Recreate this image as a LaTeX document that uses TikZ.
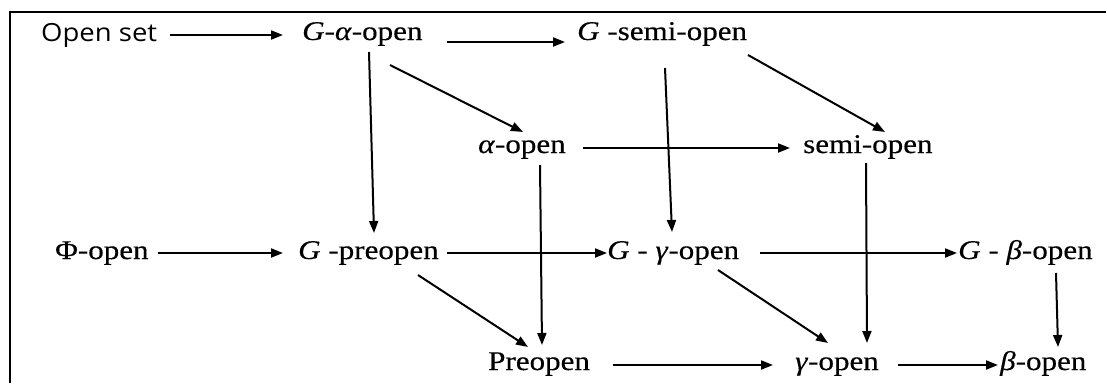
\documentclass[tikz,border=0pt]{standalone}
\usepackage{fontspec}
\setmainfont{Liberation Serif}[FakeStretch=1.15,FakeBold=0.4]
\newfontfamily\labsans{Open Sans}[FakeStretch=1.1]
\usetikzlibrary{arrows.meta}
\begin{document}
\begin{tikzpicture}[x=1pt,y=-1pt,
  lab/.style={anchor=base west,inner sep=0pt,font=\fontsize{27}{30}\selectfont},
  slab/.style={anchor=base west,inner sep=0pt,font=\labsans\fontsize{25}{28}\selectfont},
  arr/.style={line width=2pt,-{Triangle[length=12pt,width=9pt]}},
  frame/.style={line width=2pt}]
\useasboundingbox (0,0) rectangle (1107,383);
\draw[frame] (10,383) -- (10,12) -- (1106,12);
% nodes
\node[slab] (oset) at (41,41) {Open set};
\node[lab] (gao) at (302,40) {\textit{G}-\textit{α}-open};
\node[lab] (gso) at (577,40) {\textit{G} -semi-open};
\node[lab] (ao) at (478,153) {\textit{α}-open};
\node[lab] (so) at (803,153) {semi-open};
\node[lab] (phi) at (55,259) {Φ-open};
\node[lab] (gp) at (298,259) {\textit{G} -preopen};
\node[lab] (gg) at (607,259) {\textit{G} - \textit{γ}-open};
\node[lab] (gb) at (958,259) {\textit{G} - \textit{β}-open};
\node[lab] (pre) at (488,370) {Preopen};
\node[lab] (g) at (795,370) {\textit{γ}-open};
\node[lab] (b) at (1000,370) {\textit{β}-open};
% horizontal connectors
\draw[arr] ([shift={(129,-6)}]oset.base west) -- ([shift={(-19,-5)}]gao.base west);
\draw[arr] ([shift={(145,2)}]gao.base west) -- ([shift={(-12,2)}]gso.base west);
\draw[arr] ([shift={(105,-5)}]ao.base west) -- ([shift={(-13,-5)}]so.base west);
\draw[arr] ([shift={(103,-6)}]phi.base west) -- ([shift={(-15,-6)}]gp.base west);
\draw[arr] ([shift={(149,-6)}]gp.base west) -- ([shift={(0,-6)}]gg.base west);
\draw[arr] ([shift={(153,-6)}]gg.base west) -- ([shift={(-1,-6)}]gb.base west);
\draw[arr] ([shift={(125,-5)}]pre.base west) -- ([shift={(-22,-5)}]g.base west);
\draw[arr] ([shift={(103,-5)}]g.base west) -- ([shift={(-2,-5)}]b.base west);
% vertical and diagonal connectors
\draw[arr] ([shift={(67,12)}]gao.base west) -- ([shift={(76,-26)}]gp.base west);
\draw[arr] ([shift={(88,25)}]gao.base west) -- ([shift={(45,-21)}]ao.base west);
\draw[arr] ([shift={(88,28)}]gso.base west) -- ([shift={(65,-27)}]gg.base west);
\draw[arr] ([shift={(171,15)}]gso.base west) -- ([shift={(82,-21)}]so.base west);
\draw[arr] ([shift={(62,12)}]ao.base west) -- ([shift={(54,-25)}]pre.base west);
\draw[arr] ([shift={(120,16)}]gp.base west) -- ([shift={(40,-23)}]pre.base west);
\draw[arr] ([shift={(63,10)}]so.base west) -- ([shift={(72,-27)}]g.base west);
\draw[arr] ([shift={(111,11)}]gg.base west) -- ([shift={(33,-27)}]g.base west);
\draw[arr] ([shift={(98,14)}]gb.base west) -- ([shift={(58,-23)}]b.base west);
\end{tikzpicture}
\end{document}
